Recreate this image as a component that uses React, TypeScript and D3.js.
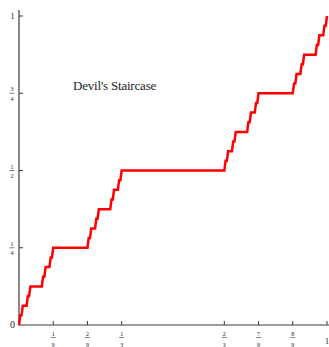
import React from 'react';
import * as d3 from 'd3';

// plateaus of the staircase: [x start, x end] in 1/243 units, level in 1/32 units
const plateauX: [number, number][] = [
  [1, 2], [3, 6], [7, 8], [9, 18], [19, 20], [21, 24], [25, 26], [27, 54],
  [55, 56], [57, 60], [61, 62], [63, 72], [73, 74], [75, 78], [79, 80], [81, 162],
  [163, 164], [165, 168], [169, 170], [171, 180], [181, 182], [183, 186], [187, 188], [189, 216],
  [217, 218], [219, 222], [223, 224], [225, 234], [235, 236], [237, 240], [241, 242],
];
const plateauY = [
  1, 2, 3, 4, 5, 6, 7, 8,
  9, 10, 11, 12, 13, 14, 15, 16,
  17, 18, 19, 20, 21, 22, 23, 24,
  25, 26, 27, 28, 29, 30, 31,
];

const xTicks = [
  { v: 1 / 9, num: '1', den: '9' },
  { v: 2 / 9, num: '2', den: '9' },
  { v: 1 / 3, num: '1', den: '3' },
  { v: 2 / 3, num: '2', den: '3' },
  { v: 7 / 9, num: '7', den: '9' },
  { v: 8 / 9, num: '8', den: '9' },
  { v: 1, num: '1', den: '' },
];
const yTicks = [
  { v: 0, num: '0', den: '' },
  { v: 1 / 4, num: '1', den: '4' },
  { v: 1 / 2, num: '1', den: '2' },
  { v: 3 / 4, num: '3', den: '4' },
  { v: 1, num: '1', den: '' },
];

const W = 329;
const H = 347;
const font = '"Liberation Serif", "Times New Roman", serif';

export default function App() {
  const x = d3.scaleLinear().domain([0, 1]).range([19, 327]);
  const y = d3.scaleLinear().domain([0, 1]).range([325, 16]);

  const pts: [number, number][] = [[0, 0]];
  plateauX.forEach(([a, b], i) => {
    pts.push([a / 243, plateauY[i] / 32]);
    pts.push([b / 243, plateauY[i] / 32]);
  });
  pts.push([1, 1]);

  const line = d3
    .line<[number, number]>()
    .x((d) => x(d[0]))
    .y((d) => y(d[1]));

  const axisColor = '#3a3a3a';
  const y0 = y(0);
  const x0 = x(0);

  return (
    <svg
      width={W}
      height={H}
      style={{ position: 'absolute', left: 0, top: 0, background: '#fff' }}
    >
      {/* axes */}
      <line x1={x0} x2={x0} y1={10} y2={y0 + 0.5} stroke={axisColor} strokeWidth={1.2} />
      <line x1={x0} x2={W} y1={y0} y2={y0} stroke={axisColor} strokeWidth={1.2} />

      {/* x ticks */}
      {xTicks.map((t, i) => {
        const px = x(t.v);
        return (
          <g key={'x' + i} fontFamily={font} fill="#222">
            <line x1={px} x2={px} y1={y0} y2={y0 - 4} stroke={axisColor} strokeWidth={1} />
            {t.den ? (
              <>
                <text x={px} y={335.5} fontSize={6} textAnchor="middle">{t.num}</text>
                <line x1={px - 2.5} x2={px + 2.5} y1={337.5} y2={337.5} stroke="#333" strokeWidth={0.6} />
                <text x={px} y={346.5} fontSize={6} textAnchor="middle">{t.den}</text>
              </>
            ) : (
              <text x={px} y={344} fontSize={8} textAnchor="middle">{t.num}</text>
            )}
          </g>
        );
      })}

      {/* y ticks */}
      {yTicks.map((t, i) => {
        const py = y(t.v);
        return (
          <g key={'y' + i} fontFamily={font} fill="#222">
            {t.v > 0 && (
              <line x1={x0} x2={x0 + 4} y1={py} y2={py} stroke={axisColor} strokeWidth={1} />
            )}
            {t.den ? (
              <>
                <text x={12} y={py - 2} fontSize={6} textAnchor="middle">{t.num}</text>
                <line x1={9.5} x2={14.5} y1={py} y2={py} stroke="#333" strokeWidth={0.6} />
                <text x={12} y={py + 7.5} fontSize={6} textAnchor="middle">{t.den}</text>
              </>
            ) : (
              <text x={12.5} y={py + 3} fontSize={t.v === 0 ? 10 : 8} textAnchor="middle">{t.num}</text>
            )}
          </g>
        );
      })}

      {/* title */}
      <text x={73} y={90} fontFamily={font} fontSize={13} fill="#222" letterSpacing={-0.2}>
        Devil's Staircase
      </text>

      {/* staircase */}
      <path d={line(pts) || ''} fill="none" stroke="#ff0000" strokeWidth={2.5} strokeLinejoin="miter" />
    </svg>
  );
}
